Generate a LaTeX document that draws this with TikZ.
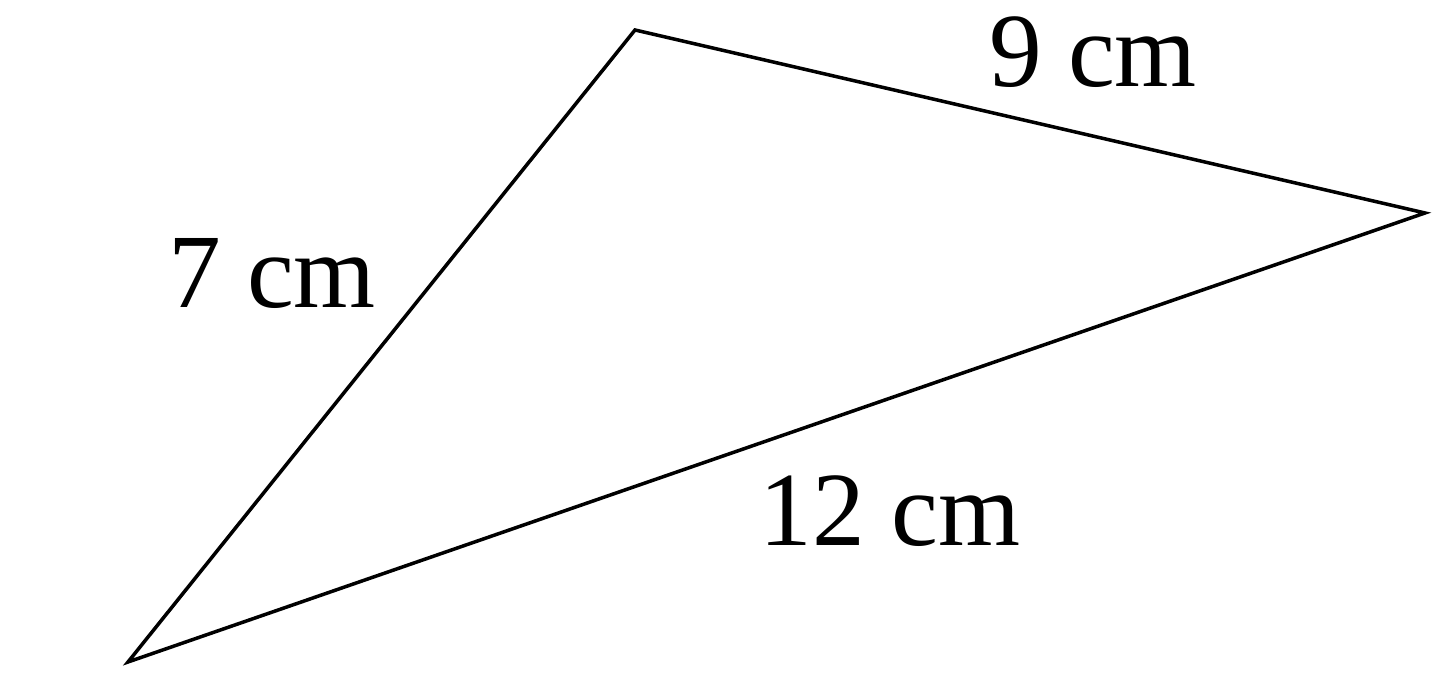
\documentclass[tikz,border=0pt]{standalone}
\usepackage{fontspec}
\setmainfont{Liberation Serif}
\usepackage{tikz}

\begin{document}
\begin{tikzpicture}[line width=1pt,
                side label/.style={font=\fontsize{30}{36}\selectfont, inner sep=0pt}]

            \useasboundingbox (0,0) rectangle (14.4,6.88);

            \coordinate (P) at (1.28,0.26);
            \coordinate (Q) at (6.35,6.58);
            \coordinate (R) at (14.25,4.75);

            \draw (P) -- (Q) -- (R) -- cycle;

            \node[side label] (lab7) at (2.72,4.14) {7 cm};
            \node[side label] (lab9) at (10.93,6.36) {9 cm};
            \node[side label] (lab12) at (8.90,1.77) {12 cm};

        \end{tikzpicture}
\end{document}
